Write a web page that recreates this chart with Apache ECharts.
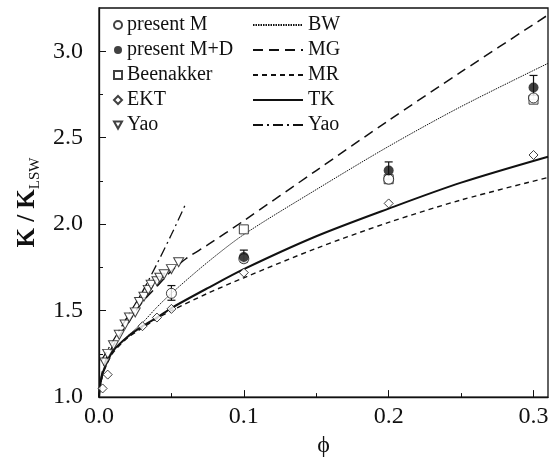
<!DOCTYPE html>
<html>
<head>
<meta charset="utf-8">
<script src="https://cdn.jsdelivr.net/npm/echarts@6/dist/echarts.min.js"></script>
<style>
html,body{margin:0;padding:0;background:#fff;}
#c{width:552px;height:463px;}
</style>
</head>
<body>
<div id="c"></div>
<script>
// ---- data ----
const xTicks = [0, 0.1, 0.2, 0.3];
const xMinorTicks = [0.05, 0.15, 0.25];
const yTicks = [1.0, 1.5, 2.0, 2.5, 3.0];
const yMinorTicks = [1.25, 1.75, 2.25, 2.75];

const presentM = [[0.05, 1.60], [0.1, 1.80], [0.2, 2.26], [0.3, 2.73]];
const presentMD = [[0.1, 1.81], [0.2, 2.31], [0.3, 2.79]];
const beenakker = [[0.1, 1.97], [0.2, 2.26], [0.3, 2.72]];
const ekt = [[0.0025, 1.05], [0.006, 1.13], [0.03, 1.41], [0.04, 1.46], [0.05, 1.51], [0.1, 1.72], [0.2, 2.12], [0.3, 2.40]];
const yaoPts = [[0.004, 1.20], [0.006, 1.25], [0.010, 1.30], [0.014, 1.36], [0.018, 1.42], [0.021, 1.46],
  [0.025, 1.49], [0.028, 1.55], [0.031, 1.58], [0.034, 1.62], [0.036, 1.65], [0.040, 1.67],
  [0.042, 1.69], [0.045, 1.71], [0.050, 1.74], [0.055, 1.78]];
// error bars: [phi, low, high]
const errM = [[0.05, 1.56, 1.645]];
const errMD = [[0.1, 1.78, 1.85], [0.2, 2.26, 2.36], [0.3, 2.72, 2.86]];

const curveBW = [[0, 1.0], [0.001, 1.07], [0.003, 1.14], [0.006, 1.21], [0.01, 1.27], [0.02, 1.355], [0.03, 1.43],
  [0.04, 1.52], [0.05, 1.60], [0.075, 1.78], [0.1, 1.94], [0.15, 2.20], [0.2, 2.45], [0.25, 2.68], [0.31, 2.93]];
const curveMG = [[0, 1.0], [0.001, 1.09], [0.003, 1.17], [0.006, 1.24], [0.01, 1.30], [0.02, 1.43], [0.03, 1.55],
  [0.04, 1.64], [0.05, 1.73], [0.06, 1.80], [0.075, 1.88], [0.1, 2.02], [0.15, 2.31], [0.2, 2.60], [0.25, 2.88], [0.31, 3.21]];
const curveMR = [[0, 1.0], [0.001, 1.07], [0.003, 1.14], [0.006, 1.20], [0.01, 1.26], [0.02, 1.345], [0.03, 1.40],
  [0.04, 1.455], [0.05, 1.50], [0.075, 1.60], [0.1, 1.69], [0.15, 1.86], [0.2, 2.01], [0.25, 2.14], [0.31, 2.27]];
const curveTK = [[0, 1.0], [0.001, 1.08], [0.003, 1.15], [0.006, 1.21], [0.01, 1.27], [0.02, 1.35], [0.03, 1.41],
  [0.04, 1.46], [0.05, 1.515], [0.075, 1.63], [0.1, 1.74], [0.15, 1.93], [0.2, 2.09], [0.25, 2.24], [0.31, 2.39]];
const curveYao = [[0.0015, 1.21], [0.01, 1.33], [0.02, 1.47], [0.03, 1.61], [0.04, 1.77], [0.05, 1.94], [0.06, 2.12]];

const scatterNames = ['present M', 'present M+D', 'Beenakker', 'EKT', 'Yao'];
const lineNames = ['BW', 'MG', 'MR', 'TK', 'Yao '];

// ---- chart ----
const FONT = "'Liberation Serif', 'Times New Roman', serif";
const INK = '#111';
const triDown = 'path://M0,0 L10,0 L5,9 Z';

function errRender(params, api) {
  const x = api.value(0), lo = api.value(1), hi = api.value(2);
  const p1 = api.coord([x, lo]), p2 = api.coord([x, hi]);
  const w = 4;
  const st = { stroke: INK, lineWidth: 1.2, fill: null };
  return {
    type: 'group',
    children: [
      { type: 'line', shape: { x1: p1[0], y1: p1[1], x2: p2[0], y2: p2[1] }, style: st },
      { type: 'line', shape: { x1: p1[0] - w, y1: p1[1], x2: p1[0] + w, y2: p1[1] }, style: st },
      { type: 'line', shape: { x1: p2[0] - w, y1: p2[1], x2: p2[0] + w, y2: p2[1] }, style: st }
    ]
  };
}

function lineSeries(name, data, width, type) {
  return {
    name: name, type: 'line', data: data, symbol: 'none', smooth: 0.3,
    itemStyle: { color: 'rgba(0,0,0,0)', borderColor: 'rgba(0,0,0,0)' },
    lineStyle: { color: INK, width: width, type: type }, z: 2
  };
}

const hollow = { color: '#fff', borderColor: INK, borderWidth: 1 };

const option = {
  animation: false,
  backgroundColor: '#fff',
  grid: { left: 99, top: 8, right: 4, bottom: 65, show: true, borderColor: INK, borderWidth: 1.3, backgroundColor: 'transparent' },
  legend: [
    {
      data: scatterNames, orient: 'vertical', left: 113, top: 15, itemGap: 5, padding: 0,
      itemWidth: 8, itemHeight: 8, selectedMode: false,
      textStyle: { fontFamily: FONT, fontSize: 20, color: INK, lineHeight: 20 }
    },
    {
      data: lineNames, orient: 'vertical', left: 252, top: 15, itemGap: 5, padding: 0,
      itemWidth: 50, itemHeight: 10, selectedMode: false,
      textStyle: { fontFamily: FONT, fontSize: 20, color: INK, lineHeight: 20 }
    }
  ],
  xAxis: [
    {
      type: 'value', min: 0, max: 0.31, gridIndex: 0, position: 'bottom',
      name: 'ϕ', nameLocation: 'middle', nameGap: 34,
      nameTextStyle: { fontFamily: FONT, fontSize: 24, color: INK },
      axisLine: { show: true, lineStyle: { color: INK, width: 1.3 } },
      axisTick: { show: true, inside: true, length: 7, lineStyle: { color: INK, width: 1 }, customValues: xTicks },
      axisLabel: { show: true, margin: 8, customValues: xTicks, fontFamily: FONT, fontSize: 24, color: INK,
        formatter: v => v.toFixed(1) },
      splitLine: { show: false }
    },
    {
      type: 'value', min: 0, max: 0.31, gridIndex: 0, position: 'bottom',
      axisLine: { show: false },
      axisTick: { show: true, inside: true, length: 4, lineStyle: { color: INK, width: 1 }, customValues: xMinorTicks },
      axisLabel: { show: false },
      splitLine: { show: false }
    }
  ],
  yAxis: [
    {
      type: 'value', min: 1.0, max: 3.25, gridIndex: 0, position: 'left',
      name: '{k|K / K}{s|LSW}', nameLocation: 'middle', nameGap: 52, nameRotate: 90,
      nameTextStyle: {
        fontFamily: FONT, color: INK,
        rich: {
          k: { fontFamily: FONT, fontSize: 25, fontWeight: 'bold', color: INK, lineHeight: 30 },
          s: { fontFamily: FONT, fontSize: 15, color: INK, lineHeight: 30, verticalAlign: 'bottom' }
        }
      },
      axisLine: { show: true, lineStyle: { color: INK, width: 1.3 } },
      axisTick: { show: true, inside: true, length: 7, lineStyle: { color: INK, width: 1 }, customValues: yTicks },
      axisLabel: { show: true, margin: 16, customValues: yTicks, fontFamily: FONT, fontSize: 24, color: INK,
        formatter: v => v.toFixed(1) },
      splitLine: { show: false }
    },
    {
      type: 'value', min: 1.0, max: 3.25, gridIndex: 0, position: 'left',
      axisLine: { show: false },
      axisTick: { show: true, inside: true, length: 4, lineStyle: { color: INK, width: 1 }, customValues: yMinorTicks },
      axisLabel: { show: false },
      splitLine: { show: false }
    }
  ],
  series: [
    lineSeries('BW', curveBW, 1, [1.5, 1]),
    lineSeries('MG', curveMG, 1.5, [10, 6]),
    lineSeries('MR', curveMR, 1.4, [5, 4]),
    lineSeries('TK', curveTK, 2, 'solid'),
    lineSeries('Yao ', curveYao, 1.3, [10, 4, 2, 4]),
    { name: 'errM', type: 'custom', renderItem: errRender, data: errM, z: 3, silent: true },
    { name: 'errMD', type: 'custom', renderItem: errRender, data: errMD, z: 3, silent: true },
    { name: 'EKT', type: 'scatter', data: ekt, symbol: 'diamond', symbolSize: 9, itemStyle: hollow, z: 4 },
    { name: 'Yao', type: 'scatter', data: yaoPts, symbol: triDown, symbolSize: [10, 9], itemStyle: hollow, z: 4 },
    { name: 'Beenakker', type: 'scatter', data: beenakker, symbol: 'rect', symbolSize: 9, itemStyle: hollow, z: 4 },
    { name: 'present M', type: 'scatter', data: presentM, symbol: 'circle', symbolSize: 10, itemStyle: hollow, z: 5 },
    { name: 'present M+D', type: 'scatter', data: presentMD, symbol: 'circle', symbolSize: 10, itemStyle: { color: INK }, z: 6 }
  ]
};

const chart = echarts.init(document.getElementById('c'), null, { renderer: 'canvas' });
chart.setOption(option);
</script>
</body>
</html>
